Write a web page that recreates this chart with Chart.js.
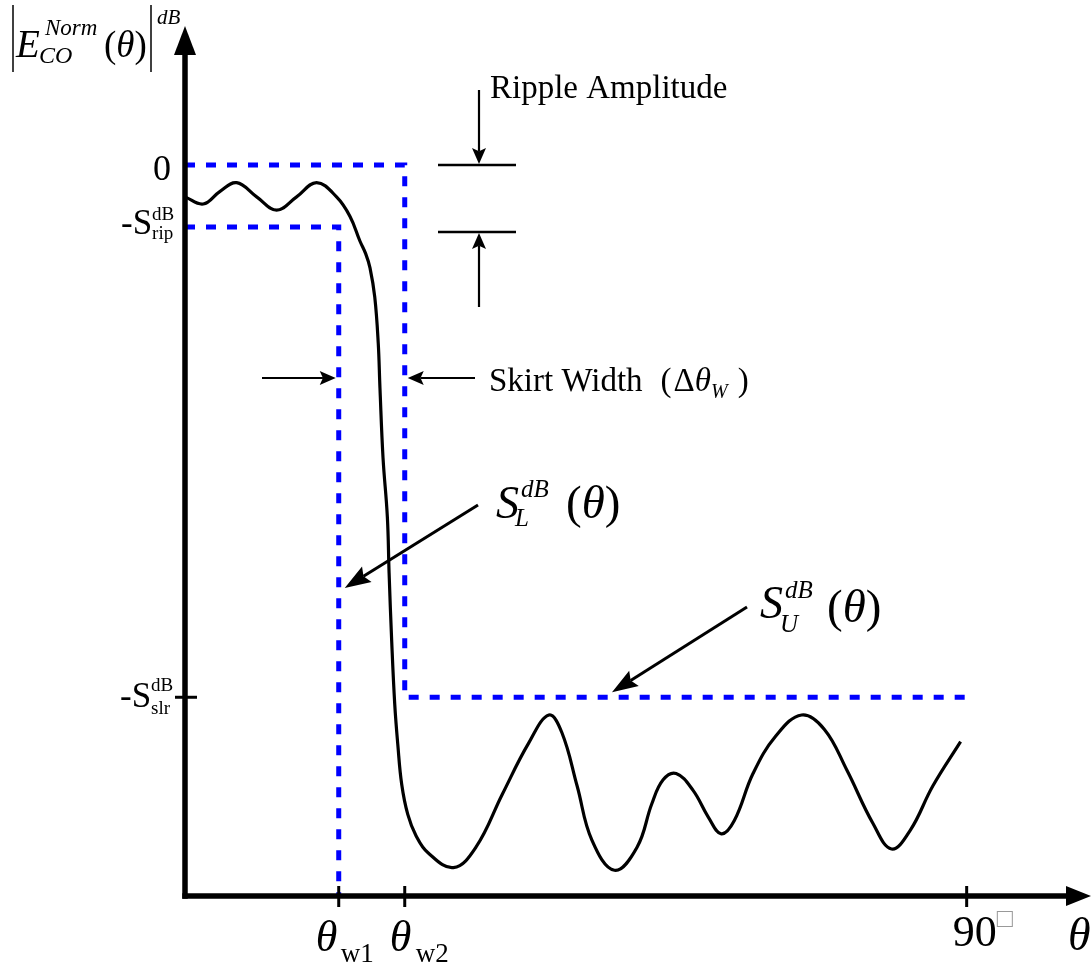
<!DOCTYPE html>
<html>
<head>
<meta charset="utf-8">
<script src="https://cdn.jsdelivr.net/npm/chart.js@4"></script>
<style>
  html, body { margin: 0; padding: 0; background: #fff; }
  #wrap { width: 1091px; height: 970px; position: relative; }
</style>
</head>
<body>
<div id="wrap"><canvas id="chart"></canvas></div>
<script>
// normalized co-pol pattern, angle (deg) vs level (dB)
const thetaDeg = [0, 2.1, 4.0, 5.95, 8.25, 10.55, 12.85, 15.15, 17.45,
    19.0, 20.15, 20.8, 21.3, 21.85, 22.25, 22.45, 22.8, 23.3, 23.5, 23.8,
    24.15, 24.5, 24.95, 25.65, 26.6, 27.95, 30.9, 33.5, 36.55, 39.55,
    41.9, 43.4, 45.15, 46.85, 49.45, 52.05, 53.75, 55.05, 56.55, 58.5,
    60.25, 61.75, 63.25, 65.4, 68.0, 71.0, 73.6, 76.2, 79.2, 81.35,
    83.5, 86.1, 89.3];
const levelDb = [-1.8, -2.2, -1.5, -1.0, -1.8, -2.55, -1.8, -1.0, -1.8,
    -2.9, -4.3, -5.0, -5.8, -7.45, -10.05, -12.6, -16.5, -19.85, -23.0, -26.85,
    -30.4, -32.65, -34.9, -36.6, -37.8, -38.75, -39.6, -38.45, -35.45, -32.6,
    -31.0, -32.0, -35.0, -38.05, -39.75, -38.45, -36.0, -34.65, -34.3, -35.25,
    -36.75, -37.7, -36.95, -34.3, -32.2, -31.0, -31.8, -34.1, -37.1, -38.55,
    -37.5, -35.0, -32.5];

// mask parameters
const thetaW1 = 17.7;
const thetaW2 = 25.3;
const thetaEnd = 90;
const sRip = 3.5;
const sSlr = 30;

const yMin = -41.2, yMax = 8;
const xMin = 0, xMax = 104.2;

// upper mask S_U and lower mask S_L corners
const upperTheta = [0, thetaW2, thetaW2, thetaEnd];
const upperDb = [0, 0, -sSlr, -sSlr];
const lowerTheta = [0, thetaW1, thetaW1];
const lowerDb = [-sRip, -sRip, yMin];

// axis tick positions
const xTickVals = [thetaW1, thetaW2, thetaEnd];
const yTickVals = [-sSlr];

const SERIF = '"Liberation Serif", "Times New Roman", serif';
const pts = (xs, ys) => xs.map((x, i) => ({ x, y: ys[i] }));

function arrow(ctx, x1, y1, x2, y2, head, half, lw, notch) {
    const a = Math.atan2(y2 - y1, x2 - x1);
    const c = Math.cos(a), s = Math.sin(a);
    const bx = x2 - head * c, by = y2 - head * s;
    const nx = x2 - head * (1 - (notch || 0)) * c, ny = y2 - head * (1 - (notch || 0)) * s;
    ctx.lineWidth = lw;
    ctx.beginPath(); ctx.moveTo(x1, y1); ctx.lineTo(nx, ny); ctx.stroke();
    ctx.beginPath();
    ctx.moveTo(x2, y2);
    ctx.lineTo(bx + half * s, by - half * c);
    ctx.lineTo(nx, ny);
    ctx.lineTo(bx - half * s, by + half * c);
    ctx.closePath();
    ctx.fill();
}

function txt(ctx, t, x, y, size, italic) {
    ctx.font = (italic ? 'italic ' : '') + size + 'px ' + SERIF;
    ctx.fillText(t, x, y);
    return x + ctx.measureText(t).width;
}

const diagram = {
    id: 'diagram',
    afterDatasetsDraw(chart) {
        const ctx = chart.ctx;
        const X = v => chart.scales.x.getPixelForValue(v);
        const Y = v => chart.scales.y.getPixelForValue(v);
        const x0 = X(xMin), yb = Y(yMin);
        ctx.save();
        ctx.strokeStyle = '#000';
        ctx.fillStyle = '#000';
        ctx.textBaseline = 'alphabetic';

        // axes with arrowheads
        const yTip = Y(yMax) + 3, xTip = chart.chartArea.right + 1;
        ctx.lineWidth = 5.5;
        ctx.beginPath(); ctx.moveTo(x0, yb + 2.7); ctx.lineTo(x0, yTip + 28); ctx.stroke();
        ctx.beginPath(); ctx.moveTo(x0 - 2.7, yb); ctx.lineTo(xTip - 24, yb); ctx.stroke();
        ctx.beginPath();
        ctx.moveTo(x0, yTip); ctx.lineTo(x0 - 11, yTip + 29); ctx.lineTo(x0 + 11, yTip + 29);
        ctx.closePath(); ctx.fill();
        ctx.beginPath();
        ctx.moveTo(xTip, yb); ctx.lineTo(xTip - 25, yb - 10); ctx.lineTo(xTip - 25, yb + 10);
        ctx.closePath(); ctx.fill();

        // tick marks
        ctx.lineWidth = 3;
        xTickVals.forEach(v => {
            ctx.beginPath(); ctx.moveTo(X(v), yb - 10); ctx.lineTo(X(v), yb + 11); ctx.stroke();
        });
        yTickVals.forEach(v => {
            ctx.beginPath(); ctx.moveTo(x0 - 10, Y(v)); ctx.lineTo(x0 + 12, Y(v)); ctx.stroke();
        });

        // y tick labels
        txt(ctx, '0', x0 - 32, Y(0) + 15, 36, false);
        let sx = txt(ctx, '-S', x0 - 64, Y(-sRip) + 7, 35, false);
        txt(ctx, 'dB', sx, Y(-sRip) - 7, 19, false);
        txt(ctx, 'rip', sx, Y(-sRip) + 12, 19, false);
        sx = txt(ctx, '-S', x0 - 65, Y(-sSlr) + 10, 35, false);
        txt(ctx, 'dB', sx, Y(-sSlr) - 6, 19, false);
        txt(ctx, 'slr', sx, Y(-sSlr) + 17, 19, false);

        // x tick labels
        const lb = yb + 55;
        txt(ctx, 'θ', X(thetaW1) - 23, lb, 44, true);
        txt(ctx, 'w1', X(thetaW1) + 2, lb + 11, 27, false);
        txt(ctx, 'θ', X(thetaW2) - 15, lb, 44, true);
        txt(ctx, 'w2', X(thetaW2) + 11, lb + 11, 27, false);
        sx = txt(ctx, '90', X(thetaEnd) - 14, yb + 50, 44, false);
        ctx.fillStyle = '#999';
        txt(ctx, '\u25A1', sx + 0, yb + 31, 27, false);
        ctx.fillStyle = '#000';
        txt(ctx, 'θ', xTip - 23, yb + 54, 46, true);

        // y axis title |E_CO^Norm(θ)|^dB
        ctx.lineWidth = 1.5;
        ctx.beginPath(); ctx.moveTo(13, 5); ctx.lineTo(13, 72); ctx.stroke();
        ctx.beginPath(); ctx.moveTo(151, 5); ctx.lineTo(151, 72); ctx.stroke();
        txt(ctx, 'E', 16, 57, 39, true);
        txt(ctx, 'Norm', 45, 35, 23, true);
        txt(ctx, 'CO', 39, 63, 24, true);
        let tx = txt(ctx, '(', 104, 57, 37, false);
        tx = txt(ctx, 'θ', tx, 57, 37, true);
        txt(ctx, ')', tx, 57, 37, false);
        txt(ctx, 'dB', 157, 24, 21, true);

        // ripple amplitude marker
        ctx.lineWidth = 2.5;
        [Y(0), Y(-sRip) + 5].forEach(y => {
            ctx.beginPath(); ctx.moveTo(438, y); ctx.lineTo(516, y); ctx.stroke();
        });
        arrow(ctx, 479, 90, 479, Y(0) - 1, 16, 7, 2.2, 0.2);
        arrow(ctx, 479, 307, 479, Y(-sRip) + 6, 16, 7, 2.2, 0.2);
        txt(ctx, 'Ripple Amplitude', 490, 98, 33, false);

        // skirt width marker
        const ya = 378;
        arrow(ctx, 262, ya, X(thetaW1) - 3, ya, 16, 7, 2, 0.2);
        arrow(ctx, 475, ya, X(thetaW2) + 3, ya, 16, 7, 2, 0.2);
        tx = txt(ctx, 'Skirt Width', 489, 391, 33, false);
        tx = txt(ctx, '(', tx + 18, 391, 33, false);
        tx = txt(ctx, 'Δ', tx + 2, 391, 33, false);
        tx = txt(ctx, 'θ', tx, 391, 33, true);
        tx = txt(ctx, 'W', tx, 398, 20, true);
        txt(ctx, ')', tx + 10, 391, 33, false);

        // mask labels with pointer arrows
        arrow(ctx, 478, 505, X(thetaW1) + 6, 588, 26, 9, 3, 0.15);
        sx = txt(ctx, 'S', 496, 518, 46, true);
        txt(ctx, 'dB', sx + 2, 497, 25, true);
        txt(ctx, 'L', sx - 4, 526, 25, true);
        tx = txt(ctx, '(', 566, 518, 47, false);
        tx = txt(ctx, 'θ', tx, 518, 47, true);
        txt(ctx, ')', tx, 518, 47, false);

        arrow(ctx, 747, 607, 612, Y(-sSlr) - 5, 26, 9, 3, 0.15);
        sx = txt(ctx, 'S', 760, 618, 46, true);
        txt(ctx, 'dB', sx + 2, 598, 25, true);
        txt(ctx, 'U', sx - 3, 632, 25, true);
        tx = txt(ctx, '(', 827, 622, 47, false);
        tx = txt(ctx, 'θ', tx, 622, 47, true);
        txt(ctx, ')', tx, 622, 47, false);

        ctx.restore();
    }
};

new Chart(document.getElementById('chart').getContext('2d'), {
    type: 'line',
    data: {
        datasets: [{
            label: 'pattern',
            data: pts(thetaDeg, levelDb),
            borderColor: '#000',
            borderWidth: 3.2,
            tension: 0.4,
            pointRadius: 0,
            fill: false
        }, {
            label: 'S_U',
            data: pts(upperTheta, upperDb),
            borderColor: '#0000ff',
            borderWidth: 5,
            borderDash: [10, 11],
            tension: 0,
            pointRadius: 0,
            fill: false
        }, {
            label: 'S_L',
            data: pts(lowerTheta, lowerDb),
            borderColor: '#0000ff',
            borderWidth: 5,
            borderDash: [10, 11],
            tension: 0,
            pointRadius: 0,
            fill: false
        }]
    },
    options: {
        responsive: true,
        maintainAspectRatio: false,
        animation: false,
        devicePixelRatio: 1,
        layout: { padding: { left: 185, right: 1, top: 23, bottom: 74 } },
        scales: {
            x: { type: 'linear', min: xMin, max: xMax, display: false },
            y: { type: 'linear', min: yMin, max: yMax, display: false }
        },
        plugins: {
            legend: { display: false },
            tooltip: { enabled: false }
        }
    },
    plugins: [diagram]
});
</script>
</body>
</html>
